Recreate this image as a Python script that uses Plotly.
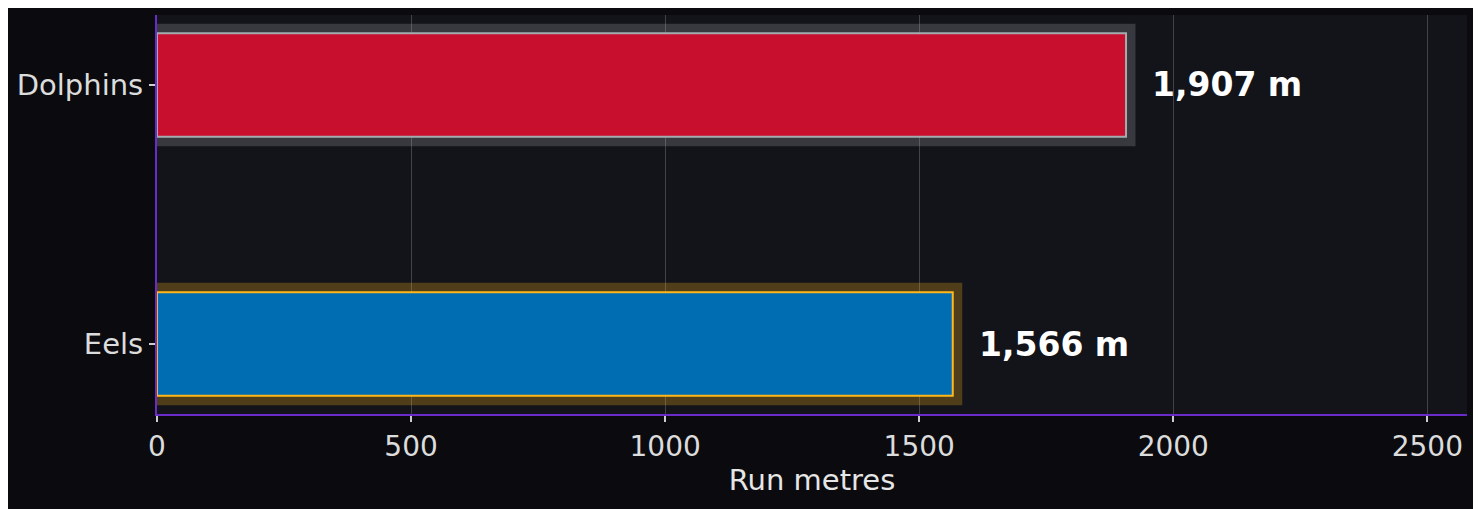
import plotly.graph_objects as go

# data
teams = ["Eels", "Dolphins"]
run_metres = [1566, 1907]
x_ticks = [0, 500, 1000, 1500, 2000, 2500]

# team colours
fill_colors = ["#006DB3", "#C8102E"]
edge_colors = ["#FFB81C", "#A5ACAF"]
glow_colors = ["rgba(255,184,28,0.26)", "rgba(165,172,175,0.25)"]

value_text = ["{:,} m".format(v) for v in run_metres]

fig = go.Figure()

# soft glow behind each bar (thick translucent outline)
fig.add_trace(go.Bar(
    x=run_metres, y=teams, orientation="h", width=0.4,
    marker=dict(color="rgba(0,0,0,0)", line=dict(color=glow_colors, width=19)),
    hoverinfo="skip", showlegend=False,
))

fig.add_trace(go.Bar(
    x=run_metres, y=teams, orientation="h", width=0.4,
    marker=dict(color=fill_colors, line=dict(color=edge_colors, width=2)),
    showlegend=False,
))

for team, v, label in zip(teams, run_metres, value_text):
    fig.add_annotation(
        x=v, y=team, text=label, showarrow=False,
        xanchor="left", yanchor="middle", xshift=24,
        font=dict(family="DejaVu Sans", size=33, color="#FFFFFF", weight="bold"),
    )

# page body adds ~8px offset, margins compensate for it
fig.update_layout(
    width=1481, height=509,
    barmode="overlay",
    paper_bgcolor="#0B0B0F",
    plot_bgcolor="#13131A",
    margin=dict(l=149, r=22, t=7, b=103),
    font=dict(family="DejaVu Sans", size=29, color="#DCDCDC"),
)

fig.update_xaxes(
    range=[0, 2578],
    tickvals=x_ticks,
    showgrid=True, gridcolor="rgba(255,255,255,0.2)", gridwidth=1,
    zeroline=False,
    showline=True, linecolor="#6A2CC8", linewidth=2,
    ticks="outside", ticklen=6, tickwidth=1.5, tickcolor="#CCCCCC",
    tickfont=dict(size=28, color="#DCDCDC"),
    title=dict(text="Run metres", font=dict(size=29, color="#E6E6E6"), standoff=7),
)

fig.update_yaxes(
    range=[-0.27, 1.27],
    showgrid=False, zeroline=False,
    showline=True, linecolor="#6A2CC8", linewidth=2,
    ticks="outside", ticklen=6, tickwidth=1.5, tickcolor="#CCCCCC",
    tickfont=dict(size=29, color="#DCDCDC"),
    automargin=False,
)

fig.write_html("out.html")
